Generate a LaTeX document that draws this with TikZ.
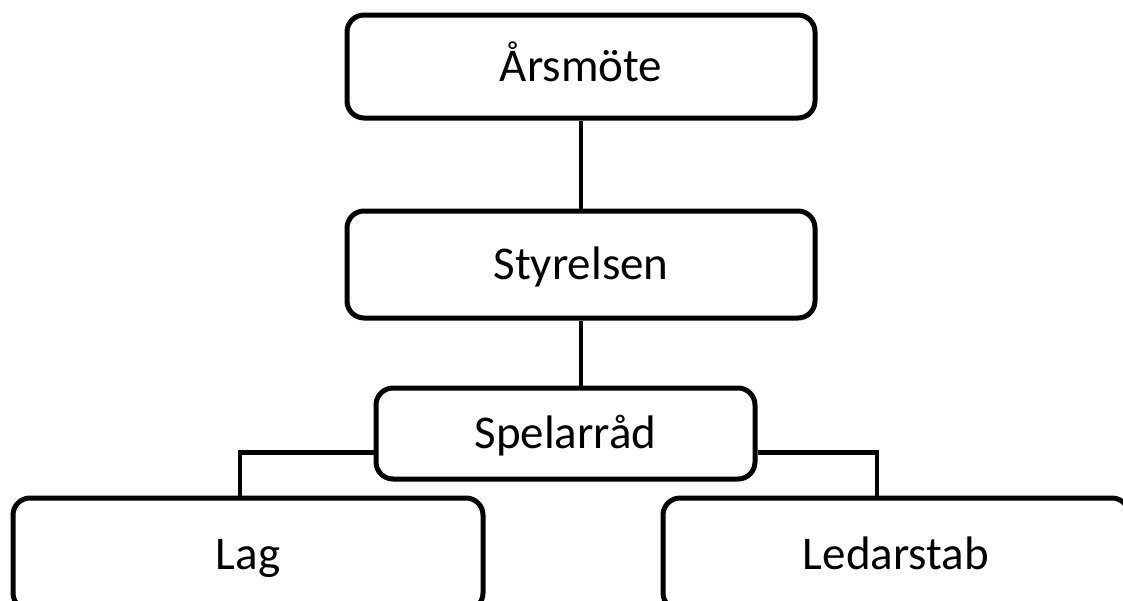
\documentclass[tikz,border=0pt]{standalone}
\usepackage{fontspec}
\setmainfont{Carlito}

\begin{document}
\begin{tikzpicture}[x=1pt,y=-1pt]

        \useasboundingbox (0,0) rectangle (1123,600);
        \clip (0,0) rectangle (1123,600);

        \begin{scope}[every node/.style={draw, line width=5pt, rounded corners=17pt,
            inner sep=0pt, text height=36pt, text depth=6pt,
            font=\fontsize{47}{56}\selectfont}]
          \node[minimum width=468pt, minimum height=103pt] (1) at (581,66.5)  {Årsmöte};
          \node[minimum width=468pt, minimum height=107pt] (2) at (581,264.5) {Styrelsen};
          \node[minimum width=379pt, minimum height=91pt]  (3) at (565.5,433.5) {Spelarråd};
          \node[minimum width=470pt, minimum height=112pt] (4) at (248,554)   {Lag};
          \node[minimum width=466pt, minimum height=112pt] (5) at (896,554)   {Ledarstab};
        \end{scope}

        \begin{scope}[line width=4.5pt]
          \draw (1) -- (2);
          \draw (2.south) -- (2.south |- 3.north);
          \draw ([yshift=-19pt]3.west) -| ([xshift=-8pt]4.north);
          \draw ([yshift=-19pt]3.east) -| ([xshift=-19pt]5.north);
        \end{scope}

      \end{tikzpicture}
\end{document}
